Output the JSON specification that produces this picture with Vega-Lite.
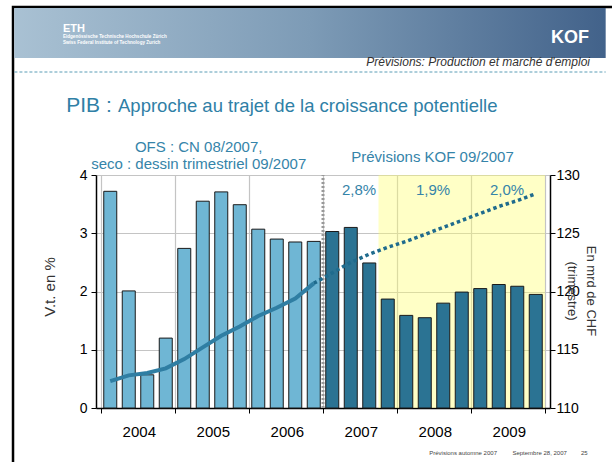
{
  "$schema": "https://vega.github.io/schema/vega-lite/v6.json",
  "width": 454,
  "height": 233,
  "autosize": "none",
  "padding": {"left": 96, "top": 175, "right": 62, "bottom": 54},
  "background": "white",
  "config": {
    "font": "Liberation Sans",
    "view": {"stroke": null},
    "axis": {
      "labelFont": "Liberation Sans",
      "labelFontSize": 14,
      "labelColor": "#000",
      "domainColor": "#000",
      "domainWidth": 1.5,
      "tickColor": "#000",
      "tickSize": 5,
      "gridColor": "#c4c4c4",
      "gridWidth": 1.2,
      "titleFont": "Liberation Sans",
      "titleFontWeight": "normal",
      "titleColor": "#333"
    }
  },
  "datasets": {
    "trimestres": [
      {"t": 2004.125, "trimestre": "2004 T1", "croissance": 3.72, "source": "OFS/seco"},
      {"t": 2004.375, "trimestre": "2004 T2", "croissance": 2.01, "source": "OFS/seco"},
      {"t": 2004.625, "trimestre": "2004 T3", "croissance": 0.57, "source": "OFS/seco"},
      {"t": 2004.875, "trimestre": "2004 T4", "croissance": 1.20, "source": "OFS/seco"},
      {"t": 2005.125, "trimestre": "2005 T1", "croissance": 2.74, "source": "OFS/seco"},
      {"t": 2005.375, "trimestre": "2005 T2", "croissance": 3.55, "source": "OFS/seco"},
      {"t": 2005.625, "trimestre": "2005 T3", "croissance": 3.71, "source": "OFS/seco"},
      {"t": 2005.875, "trimestre": "2005 T4", "croissance": 3.49, "source": "OFS/seco"},
      {"t": 2006.125, "trimestre": "2006 T1", "croissance": 3.07, "source": "OFS/seco"},
      {"t": 2006.375, "trimestre": "2006 T2", "croissance": 2.90, "source": "OFS/seco"},
      {"t": 2006.625, "trimestre": "2006 T3", "croissance": 2.85, "source": "OFS/seco"},
      {"t": 2006.875, "trimestre": "2006 T4", "croissance": 2.86, "source": "OFS/seco"},
      {"t": 2007.125, "trimestre": "2007 T1", "croissance": 3.03, "source": "KOF"},
      {"t": 2007.375, "trimestre": "2007 T2", "croissance": 3.10, "source": "KOF"},
      {"t": 2007.625, "trimestre": "2007 T3", "croissance": 2.49, "source": "KOF"},
      {"t": 2007.875, "trimestre": "2007 T4", "croissance": 1.87, "source": "KOF"},
      {"t": 2008.125, "trimestre": "2008 T1", "croissance": 1.59, "source": "KOF"},
      {"t": 2008.375, "trimestre": "2008 T2", "croissance": 1.55, "source": "KOF"},
      {"t": 2008.625, "trimestre": "2008 T3", "croissance": 1.80, "source": "KOF"},
      {"t": 2008.875, "trimestre": "2008 T4", "croissance": 1.99, "source": "KOF"},
      {"t": 2009.125, "trimestre": "2009 T1", "croissance": 2.05, "source": "KOF"},
      {"t": 2009.375, "trimestre": "2009 T2", "croissance": 2.12, "source": "KOF"},
      {"t": 2009.625, "trimestre": "2009 T3", "croissance": 2.09, "source": "KOF"},
      {"t": 2009.875, "trimestre": "2009 T4", "croissance": 1.95, "source": "KOF"}
    ],
    "niveau": [
      {"t": 2004.125, "niveau": 112.3, "serie": "OFS/seco"},
      {"t": 2004.375, "niveau": 112.8, "serie": "OFS/seco"},
      {"t": 2004.625, "niveau": 113.0, "serie": "OFS/seco"},
      {"t": 2004.875, "niveau": 113.4, "serie": "OFS/seco"},
      {"t": 2005.125, "niveau": 114.2, "serie": "OFS/seco"},
      {"t": 2005.375, "niveau": 115.2, "serie": "OFS/seco"},
      {"t": 2005.625, "niveau": 116.2, "serie": "OFS/seco"},
      {"t": 2005.875, "niveau": 117.0, "serie": "OFS/seco"},
      {"t": 2006.125, "niveau": 117.9, "serie": "OFS/seco"},
      {"t": 2006.375, "niveau": 118.6, "serie": "OFS/seco"},
      {"t": 2006.625, "niveau": 119.4, "serie": "OFS/seco"},
      {"t": 2006.875, "niveau": 120.7, "serie": "OFS/seco"},
      {"t": 2006.875, "niveau": 120.7, "serie": "KOF"},
      {"t": 2007.125, "niveau": 121.6, "serie": "KOF"},
      {"t": 2007.375, "niveau": 122.5, "serie": "KOF"},
      {"t": 2007.625, "niveau": 123.2, "serie": "KOF"},
      {"t": 2007.875, "niveau": 123.8, "serie": "KOF"},
      {"t": 2008.125, "niveau": 124.3, "serie": "KOF"},
      {"t": 2008.375, "niveau": 124.9, "serie": "KOF"},
      {"t": 2008.625, "niveau": 125.5, "serie": "KOF"},
      {"t": 2008.875, "niveau": 126.1, "serie": "KOF"},
      {"t": 2009.125, "niveau": 126.7, "serie": "KOF"},
      {"t": 2009.375, "niveau": 127.3, "serie": "KOF"},
      {"t": 2009.625, "niveau": 127.8, "serie": "KOF"},
      {"t": 2009.875, "niveau": 128.4, "serie": "KOF"}
    ],
    "annuel": [
      {"annee": 2007, "croissance": "2,8%"},
      {"annee": 2008, "croissance": "1,9%"},
      {"annee": 2009, "croissance": "2,0%"}
    ]
  },
  "layer": [
    {
      "layer": [
        {
          "data": {"values": [{"periode": "Prévisions KOF"}]},
          "mark": {"type": "rect", "fill": "#ffff70", "opacity": 0.4},
          "encoding": {
            "x": {"datum": 2007.75, "type": "quantitative", "scale": {"domain": [2004, 2010], "nice": false, "zero": false}},
            "x2": {"datum": 2010},
            "y": {"datum": 4, "type": "quantitative", "scale": {"domain": [0, 4], "nice": false}},
            "y2": {"datum": 0}
          }
        },
        {
          "data": {"values": [{"debut": "2007"}]},
          "mark": {"type": "rule", "stroke": "#999999", "strokeDash": [2, 2], "strokeWidth": 3},
          "encoding": {
            "x": {"datum": 2007, "type": "quantitative", "scale": {"domain": [2004, 2010], "nice": false, "zero": false}},
            "y": {"datum": 0, "type": "quantitative", "scale": {"domain": [0, 4], "nice": false}},
            "y2": {"datum": 4}
          }
        },
        {
          "data": {"name": "trimestres"},
          "mark": {"type": "bar", "size": 13, "stroke": "#1a1a1a", "strokeWidth": 1},
          "encoding": {
            "x": {
              "field": "t", "type": "quantitative",
              "scale": {"domain": [2004, 2010], "nice": false, "zero": false},
              "axis": {
                "values": [2004, 2005, 2006, 2007, 2008, 2009, 2010],
                "format": "d",
                "labelExpr": "datum.value >= 2010 ? '' : datum.label",
                "labelOffset": 37.8,
                "labelPadding": 11,
                "labelFontSize": 15,
                "title": null,
                "grid": true
              }
            },
            "y": {
              "field": "croissance", "type": "quantitative",
              "scale": {"domain": [0, 4], "nice": false},
              "axis": {
                "values": [0, 1, 2, 3, 4],
                "format": "d",
                "grid": true,
                "labelPadding": 4,
                "title": "V.t. en %",
                "titleFontSize": 15,
                "titleAngle": 270,
                "titleX": -47,
                "titleY": 111.5,
                "titleAlign": "center",
                "titleBaseline": "middle"
              }
            },
            "color": {
              "field": "source", "type": "nominal",
              "scale": {"domain": ["OFS/seco", "KOF"], "range": ["#6fb6d4", "#2b7393"]},
              "legend": null
            }
          }
        },
        {
          "data": {"name": "annuel"},
          "mark": {"type": "text", "fontSize": 15, "fill": "#3584a9", "align": "center", "baseline": "alphabetic", "dx": 36},
          "encoding": {
            "x": {"field": "annee", "type": "quantitative", "scale": {"domain": [2004, 2010], "nice": false, "zero": false}},
            "y": {"datum": 3.662, "type": "quantitative", "scale": {"domain": [0, 4], "nice": false}},
            "text": {"field": "croissance"}
          }
        },
        {
          "data": {"values": [{"note": "source"}]},
          "mark": {"type": "text", "fontSize": 15, "fill": "#3584a9", "align": "center", "baseline": "alphabetic", "lineHeight": 17.5},
          "encoding": {
            "x": {"datum": 2005.32, "type": "quantitative", "scale": {"domain": [2004, 2010], "nice": false, "zero": false}},
            "y": {"datum": 4.395, "type": "quantitative", "scale": {"domain": [0, 4], "nice": false}},
            "text": {"value": ["OFS : CN 08/2007,", "seco : dessin trimestriel 09/2007"]}
          }
        },
        {
          "data": {"values": [{"note": "prevision"}]},
          "mark": {"type": "text", "fontSize": 15, "fill": "#3584a9", "align": "center", "baseline": "alphabetic"},
          "encoding": {
            "x": {"datum": 2008.48, "type": "quantitative", "scale": {"domain": [2004, 2010], "nice": false, "zero": false}},
            "y": {"datum": 4.223, "type": "quantitative", "scale": {"domain": [0, 4], "nice": false}},
            "text": {"value": "Prévisions KOF 09/2007"}
          }
        },
        {
          "data": {"values": [{"cadre": "page"}]},
          "mark": {"type": "rect", "fill": null, "stroke": "#000", "strokeWidth": 2.5},
          "encoding": {
            "x": {"datum": 2002.811, "type": "quantitative", "scale": {"domain": [2004, 2010], "nice": false, "zero": false}},
            "x2": {"datum": 2011},
            "y": {"datum": 6.884, "type": "quantitative", "scale": {"domain": [0, 4], "nice": false}},
            "y2": {"datum": -1}
          }
        },
        {
          "data": {"values": [{"cadre": "bandeau"}]},
          "mark": {
            "type": "rect",
            "fill": {
              "gradient": "linear", "x1": 0, "y1": 0, "x2": 1, "y2": 0,
              "stops": [
                {"offset": 0, "color": "#a9c1d3"},
                {"offset": 0.5, "color": "#7d9bb6"},
                {"offset": 1, "color": "#42628a"}
              ]
            }
          },
          "encoding": {
            "x": {"datum": 2002.828, "type": "quantitative", "scale": {"domain": [2004, 2010], "nice": false, "zero": false}},
            "x2": {"datum": 2010.82},
            "y": {"datum": 6.867, "type": "quantitative", "scale": {"domain": [0, 4], "nice": false}},
            "y2": {"datum": 6.009}
          }
        },
        {
          "data": {"values": [{"cadre": "ligne"}]},
          "mark": {"type": "rule", "stroke": "#5a9db6", "strokeDash": [3, 2], "strokeWidth": 1},
          "encoding": {
            "x": {"datum": 2002.83, "type": "quantitative", "scale": {"domain": [2004, 2010], "nice": false, "zero": false}},
            "x2": {"datum": 2010.82},
            "y": {"datum": 5.768, "type": "quantitative", "scale": {"domain": [0, 4], "nice": false}}
          }
        },
        {
          "data": {"values": [{"texte": "logo"}]},
          "mark": {"type": "text", "fontSize": 11, "fontWeight": "bold", "fill": "white", "align": "left", "baseline": "alphabetic"},
          "encoding": {
            "x": {"datum": 2003.485, "type": "quantitative", "scale": {"domain": [2004, 2010], "nice": false, "zero": false}},
            "y": {"datum": 6.455, "type": "quantitative", "scale": {"domain": [0, 4], "nice": false}},
            "text": {"value": "ETH"}
          }
        },
        {
          "data": {"values": [{"texte": "logo2"}]},
          "mark": {"type": "text", "fontSize": 4.6, "fontWeight": "bold", "fill": "white", "align": "left", "baseline": "alphabetic", "lineHeight": 6},
          "encoding": {
            "x": {"datum": 2003.485, "type": "quantitative", "scale": {"domain": [2004, 2010], "nice": false, "zero": false}},
            "y": {"datum": 6.352, "type": "quantitative", "scale": {"domain": [0, 4], "nice": false}},
            "text": {"value": ["Eidgenössische Technische Hochschule Zürich", "Swiss Federal Institute of Technology Zurich"]}
          }
        },
        {
          "data": {"values": [{"texte": "KOF"}]},
          "mark": {"type": "text", "fontSize": 18, "fontWeight": "bold", "fill": "white", "align": "right", "baseline": "alphabetic"},
          "encoding": {
            "x": {"datum": 2010.595, "type": "quantitative", "scale": {"domain": [2004, 2010], "nice": false, "zero": false}},
            "y": {"datum": 6.258, "type": "quantitative", "scale": {"domain": [0, 4], "nice": false}},
            "text": {"value": "KOF"}
          }
        },
        {
          "data": {"values": [{"texte": "rubrique"}]},
          "mark": {"type": "text", "fontSize": 12, "fontStyle": "italic", "fill": "#333", "align": "right", "baseline": "alphabetic"},
          "encoding": {
            "x": {"datum": 2010.608, "type": "quantitative", "scale": {"domain": [2004, 2010], "nice": false, "zero": false}},
            "y": {"datum": 5.875, "type": "quantitative", "scale": {"domain": [0, 4], "nice": false}},
            "text": {"value": "Prévisions: Production et marché d'emploi"}
          }
        },
        {
          "data": {"values": [{"texte": "titre1"}]},
          "mark": {"type": "text", "fontSize": 21, "fill": "#2f80a6", "align": "left", "baseline": "alphabetic"},
          "encoding": {
            "x": {"datum": 2003.53, "type": "quantitative", "scale": {"domain": [2004, 2010], "nice": false, "zero": false}},
            "y": {"datum": 5.081, "type": "quantitative", "scale": {"domain": [0, 4], "nice": false}},
            "text": {"value": "PIB :"}
          }
        },
        {
          "data": {"values": [{"texte": "titre2"}]},
          "mark": {"type": "text", "fontSize": 18.5, "fill": "#2f80a6", "align": "left", "baseline": "alphabetic"},
          "encoding": {
            "x": {"datum": 2004.23, "type": "quantitative", "scale": {"domain": [2004, 2010], "nice": false, "zero": false}},
            "y": {"datum": 5.081, "type": "quantitative", "scale": {"domain": [0, 4], "nice": false}},
            "text": {"value": "Approche au trajet de la croissance potentielle"}
          }
        },
        {
          "data": {"values": [{"texte": "pied1"}]},
          "mark": {"type": "text", "fontSize": 6, "fill": "#444", "align": "left", "baseline": "alphabetic"},
          "encoding": {
            "x": {"datum": 2008.436, "type": "quantitative", "scale": {"domain": [2004, 2010], "nice": false, "zero": false}},
            "y": {"datum": -0.807, "type": "quantitative", "scale": {"domain": [0, 4], "nice": false}},
            "text": {"value": "Prévisions automne 2007"}
          }
        },
        {
          "data": {"values": [{"texte": "pied2"}]},
          "mark": {"type": "text", "fontSize": 6, "fill": "#444", "align": "left", "baseline": "alphabetic"},
          "encoding": {
            "x": {"datum": 2009.56, "type": "quantitative", "scale": {"domain": [2004, 2010], "nice": false, "zero": false}},
            "y": {"datum": -0.807, "type": "quantitative", "scale": {"domain": [0, 4], "nice": false}},
            "text": {"value": "Septembre 28, 2007"}
          }
        },
        {
          "data": {"values": [{"texte": "pied3"}]},
          "mark": {"type": "text", "fontSize": 6, "fill": "#444", "align": "left", "baseline": "alphabetic"},
          "encoding": {
            "x": {"datum": 2010.485, "type": "quantitative", "scale": {"domain": [2004, 2010], "nice": false, "zero": false}},
            "y": {"datum": -0.807, "type": "quantitative", "scale": {"domain": [0, 4], "nice": false}},
            "text": {"value": "25"}
          }
        }
      ]
    },
    {
      "data": {"name": "niveau"},
      "layer": [
        {
          "transform": [{"filter": "datum.serie === 'OFS/seco'"}],
          "mark": {"type": "line", "stroke": "#2f7ea3", "strokeWidth": 4},
          "encoding": {
            "x": {"field": "t", "type": "quantitative", "scale": {"domain": [2004, 2010], "nice": false, "zero": false}},
            "y": {
              "field": "niveau", "type": "quantitative",
              "scale": {"domain": [110, 130], "nice": false, "zero": false},
              "axis": {
                "orient": "right",
                "values": [110, 115, 120, 125, 130],
                "grid": false,
                "labelPadding": 1,
                "title": ["En mrd de CHF", "(trimestre)"],
                "titleFontSize": 13,
                "titleAngle": 90,
                "titleX": 40.5,
                "titleY": 115.5,
                "titleAlign": "center",
                "titleBaseline": "middle",
                "titleLineHeight": 19
              }
            }
          }
        },
        {
          "transform": [{"filter": "datum.serie === 'KOF'"}],
          "mark": {"type": "line", "stroke": "#1f6b8d", "strokeWidth": 3.5, "strokeDash": [3.5, 3]},
          "encoding": {
            "x": {"field": "t", "type": "quantitative", "scale": {"domain": [2004, 2010], "nice": false, "zero": false}},
            "y": {"field": "niveau", "type": "quantitative", "scale": {"domain": [110, 130], "nice": false, "zero": false}}
          }
        }
      ]
    }
  ],
  "resolve": {"scale": {"y": "independent"}, "axis": {"y": "independent"}}
}
